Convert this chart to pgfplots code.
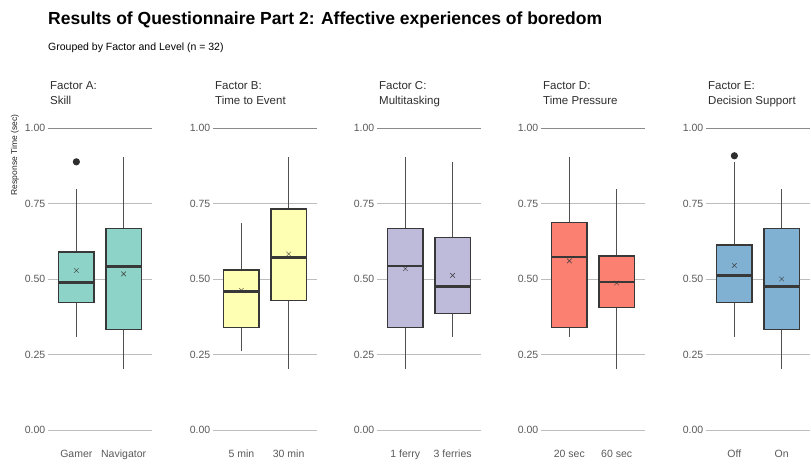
\documentclass[border=0pt]{standalone}
\usepackage{pgfplots}
\pgfplotsset{compat=1.18}
\usepgfplotslibrary{statistics}
\usepackage{fontspec}
\setmainfont{Liberation Sans}

\definecolor{setA}{HTML}{8DD3C7}
\definecolor{setB}{HTML}{FFFFB3}
\definecolor{setC}{HTML}{BEBADA}
\definecolor{setD}{HTML}{FB8072}
\definecolor{setE}{HTML}{80B1D3}
\definecolor{boxdark}{HTML}{383838}
\definecolor{whisk}{HTML}{505050}
\definecolor{gridlt}{HTML}{BDBDBD}
\definecolor{griddk}{HTML}{8A8A8A}
\definecolor{ticktxt}{HTML}{5A5A5A}
\definecolor{striptxt}{HTML}{2E2E2E}

\pgfplotsset{
  panel/.style={
    scale only axis, width=104bp, height=302bp,
    xmin=0.4, xmax=2.6, ymin=0, ymax=1,
    clip=false,
    axis line style={draw=none},
    major tick length=0pt,
    ytick={0,0.25,0.5,0.75}, extra y ticks={1},
    extra y tick style={grid style={griddk, line width=0.9bp}},
    ymajorgrids, grid style={gridlt, line width=0.8bp},
    xtick={1,2},
    /pgf/number format/assume math mode=true,
    yticklabel style={/pgf/number format/fixed, /pgf/number format/fixed zerofill,
      /pgf/number format/precision=2, font=\fontsize{10.5bp}{12bp}\selectfont,
      text=ticktxt, inner sep=2.5bp},
    xticklabel style={font=\fontsize{10.5bp}{12bp}\selectfont, text=ticktxt,
      anchor=base, yshift=-27bp},
    boxplot/draw direction=y,
    boxplot/box extend=0.75,
    boxplot/whisker extend=0,
    boxplot/every box/.style={draw=boxdark, line width=1.5bp},
    boxplot/every median/.style={draw=boxdark, line width=2.4bp},
    boxplot/every whisker/.style={draw=whisk, line width=1.3bp},
    boxplot/every average/.style={/tikz/mark=x, /tikz/mark size=3.2bp,
      /tikz/every mark/.append style={line width=1.5bp, draw=black!85}},
  },
  % one box per level; outliers are given as coordinates
  bx/.style={boxplot prepared={#1}, draw=boxdark, mark=*, mark size=2.9bp,
    mark options={draw=black!82, fill=black!82, line width=1.3bp, solid}},
}

\begin{document}
\begin{tikzpicture}
\fill[white] (0bp,0bp) rectangle (811bp,464bp);
\path[use as bounding box] (0bp,0bp) rectangle (811bp,464bp);

% headings
\node[anchor=base west, inner sep=0, font=\fontsize{17.5bp}{20bp}\selectfont\bfseries] at (48bp,439bp) {Results of Questionnaire Part 2: Affective experiences of boredom};
\node[anchor=base west, inner sep=0, font=\fontsize{10.5bp}{12bp}\selectfont] at (48bp,413bp) {Grouped by Factor and Level (n = 32)};
\node[rotate=90, inner sep=0, font=\fontsize{8.5bp}{10bp}\selectfont, text=black!85] at (15bp,309bp) {Response Time (sec)};

% Factor A
\begin{axis}[panel, at={(48bp,34bp)}, anchor=south west, xticklabels={Gamer, Navigator}]
\addplot[bx={draw position=1, lower whisker=0.309, lower quartile=0.423, median=0.489,
  upper quartile=0.590, upper whisker=0.798, average=0.528}, fill=setA] coordinates {(0,0.888)};
\addplot[bx={draw position=2, lower whisker=0.201, lower quartile=0.333, median=0.541,
  upper quartile=0.667, upper whisker=0.905, average=0.517}, fill=setA] coordinates {};
\end{axis}

% Factor B
\begin{axis}[panel, at={(213bp,34bp)}, anchor=south west, xticklabels={5 min, 30 min}]
\addplot[bx={draw position=1, lower whisker=0.261, lower quartile=0.340, median=0.459,
  upper quartile=0.530, upper whisker=0.687, average=0.463}, fill=setB] coordinates {};
\addplot[bx={draw position=2, lower whisker=0.201, lower quartile=0.428, median=0.571,
  upper quartile=0.731, upper whisker=0.905, average=0.583}, fill=setB] coordinates {};
\end{axis}

% Factor C
\begin{axis}[panel, at={(377bp,34bp)}, anchor=south west, xticklabels={1 ferry, 3 ferries}]
\addplot[bx={draw position=1, lower whisker=0.201, lower quartile=0.339, median=0.543,
  upper quartile=0.667, upper whisker=0.905, average=0.534}, fill=setC] coordinates {};
\addplot[bx={draw position=2, lower whisker=0.309, lower quartile=0.386, median=0.475,
  upper quartile=0.637, upper whisker=0.886, average=0.512}, fill=setC] coordinates {};
\end{axis}

% Factor D
\begin{axis}[panel, at={(541bp,34bp)}, anchor=south west, xticklabels={20 sec, 60 sec}]
\addplot[bx={draw position=1, lower whisker=0.309, lower quartile=0.340, median=0.572,
  upper quartile=0.687, upper whisker=0.905, average=0.560}, fill=setD] coordinates {};
\addplot[bx={draw position=2, lower whisker=0.201, lower quartile=0.406, median=0.491,
  upper quartile=0.576, upper whisker=0.797, average=0.487}, fill=setD] coordinates {};
\end{axis}

% Factor E
\begin{axis}[panel, at={(706bp,34bp)}, anchor=south west, xticklabels={Off, On}]
\addplot[bx={draw position=1, lower whisker=0.309, lower quartile=0.423, median=0.511,
  upper quartile=0.613, upper whisker=0.886, average=0.545}, fill=setE] coordinates {(0,0.908)};
\addplot[bx={draw position=2, lower whisker=0.201, lower quartile=0.333, median=0.475,
  upper quartile=0.667, upper whisker=0.797, average=0.500}, fill=setE] coordinates {};
\end{axis}

% facet strips
\foreach \px/\la/\lb in {48/A/Skill, 213/B/Time to Event, 377/C/Multitasking, 541/D/Time Pressure, 706/E/Decision Support}{
  \node[anchor=base west, inner sep=0, font=\fontsize{11.5bp}{13bp}\selectfont, text=striptxt] at (\px bp+2bp,374bp) {Factor \la:};
  \node[anchor=base west, inner sep=0, font=\fontsize{11.5bp}{13bp}\selectfont, text=striptxt] at (\px bp+2bp,359bp) {\lb};
}
\end{tikzpicture}
\end{document}
